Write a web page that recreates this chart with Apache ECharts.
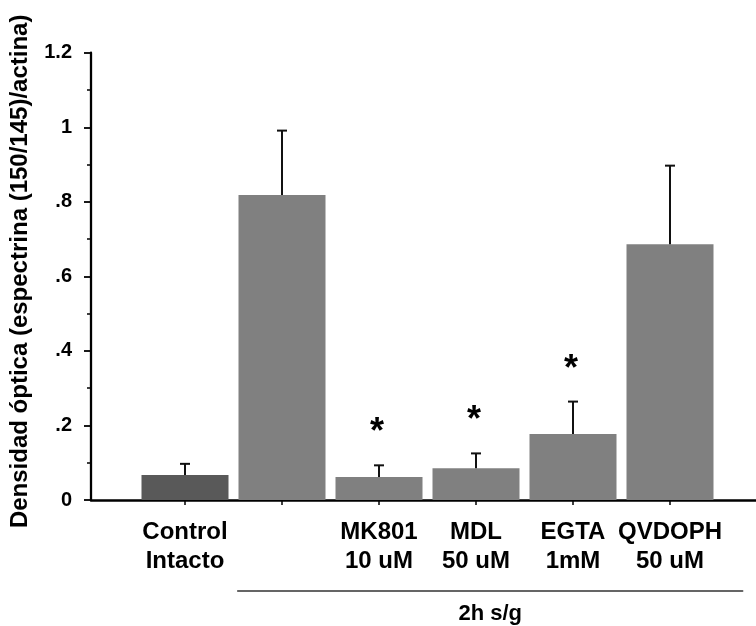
<!DOCTYPE html>
<html>
<head>
<meta charset="utf-8">
<script src="https://cdn.jsdelivr.net/npm/echarts@6/dist/echarts.min.js"></script>
<style>
  html, body { margin: 0; padding: 0; background: #fff; }
  #chart { width: 756px; height: 626px; }
</style>
</head>
<body>
<div id="chart"></div>
<script>
// datos
var categories = ['Control\nIntacto', '', 'MK801\n10 uM', 'MDL\n50 uM', 'EGTA\n1mM', 'QVDOPH\n50 uM'];
var means = [0.067, 0.818, 0.062, 0.085, 0.177, 0.686];
var errors = [0.030, 0.173, 0.031, 0.040, 0.087, 0.211];
var marks = ['', '', '*', '*', '*', ''];
var yTicks = [0, 0.2, 0.4, 0.6, 0.8, 1, 1.2];
var groupLabel = '2h s/g';
var yName = 'Densidad óptica (espectrina (150/145)/actina)';

var FONT = '"Liberation Sans", Arial, sans-serif';
var chart = echarts.init(document.getElementById('chart'));

var errData = means.map(function (m, i) {
  return [i, m, m + errors[i]];
});

var option = {
  animation: false,
  backgroundColor: '#fff',
  grid: [
    // barras
    { left: 136.5, right: 37.5, top: 52.7, bottom: 126, outerBoundsMode: 'none' },
    // ejes
    { left: 91, right: 0, top: 52.7, bottom: 126, outerBoundsMode: 'none' },
    // linea del grupo "2h s/g"
    { left: 237.7, right: 13.3, top: 52.7, bottom: 126, outerBoundsMode: 'none' }
  ],
  xAxis: [
    {
      gridIndex: 0,
      type: 'category',
      data: categories,
      axisLine: { show: false },
      axisTick: { show: true, alignWithLabel: true, length: 5, lineStyle: { color: '#000', width: 1.5 } },
      axisLabel: {
        interval: 0,
        margin: 18,
        color: '#000',
        fontFamily: FONT,
        fontWeight: 'bold',
        fontSize: 24,
        lineHeight: 29
      }
    },
    {
      gridIndex: 1,
      type: 'value',
      min: 0,
      max: 1,
      axisLine: { show: true, onZero: false, lineStyle: { color: '#000', width: 2.5 } },
      axisTick: { show: false },
      axisLabel: { show: false },
      splitLine: { show: false }
    },
    {
      gridIndex: 2,
      type: 'value',
      min: 0,
      max: 1,
      position: 'bottom',
      offset: 90.7,
      axisLine: { show: true, onZero: false, lineStyle: { color: '#333', width: 1.5 } },
      axisTick: { show: false },
      axisLabel: { show: false },
      splitLine: { show: false },
      name: groupLabel,
      nameLocation: 'middle',
      nameGap: 12,
      nameTextStyle: { color: '#000', fontFamily: FONT, fontWeight: 'bold', fontSize: 22 }
    }
  ],
  yAxis: [
    {
      gridIndex: 0,
      type: 'value',
      min: yTicks[0],
      max: yTicks[yTicks.length - 1],
      interval: 0.2,
      show: false
    },
    {
      gridIndex: 1,
      type: 'value',
      min: yTicks[0],
      max: yTicks[yTicks.length - 1],
      interval: 0.2,
      axisLine: { show: true, lineStyle: { color: '#000', width: 2.3 } },
      axisTick: { show: true, length: 7, lineStyle: { color: '#000', width: 1.8 } },
      minorTick: { show: true, splitNumber: 2, length: 4, lineStyle: { color: '#000', width: 1.5 } },
      splitLine: { show: false },
      axisLabel: {
        margin: 19,
        color: '#000',
        fontFamily: FONT,
        fontWeight: 'bold',
        fontSize: 20,
        formatter: function (v) {
          var s = String(Number(v.toFixed(1)));
          return s.replace(/^0\./, '.');
        }
      },
      name: yName,
      nameLocation: 'middle',
      nameGap: 59,
      nameTextStyle: {
        color: '#000',
        fontFamily: FONT,
        fontWeight: 'bold',
        fontSize: 24,
        padding: [0, 0, 0, 10]
      }
    },
    {
      gridIndex: 2,
      type: 'value',
      min: 0,
      max: 1,
      show: false
    }
  ],
  series: [
    {
      type: 'bar',
      xAxisIndex: 0,
      yAxisIndex: 0,
      data: means,
      barWidth: 87,
      itemStyle: {
        color: function (p) { return p.dataIndex === 0 ? '#595959' : '#808080'; }
      },
      z: 2
    },
    {
      type: 'custom',
      xAxisIndex: 0,
      yAxisIndex: 0,
      data: errData,
      z: 3,
      renderItem: function (params, api) {
        var i = api.value(0);
        var base = api.coord([i, api.value(1)]);
        var top = api.coord([i, api.value(2)]);
        var children = [
          { type: 'line', shape: { x1: base[0], y1: base[1], x2: top[0], y2: top[1] },
            style: { stroke: '#111', lineWidth: 2 } },
          { type: 'line', shape: { x1: top[0] - 5, y1: top[1], x2: top[0] + 5, y2: top[1] },
            style: { stroke: '#111', lineWidth: 2 } }
        ];
        var mk = marks[params.dataIndex];
        if (mk) {
          children.push({
            type: 'text',
            style: {
              text: mk,
              x: top[0] - 2,
              y: top[1] - 32,
              align: 'center',
              verticalAlign: 'middle',
              fill: '#000',
              font: 'bold 36px ' + FONT
            }
          });
        }
        return { type: 'group', children: children };
      }
    }
  ]
};

chart.setOption(option);
</script>
</body>
</html>
